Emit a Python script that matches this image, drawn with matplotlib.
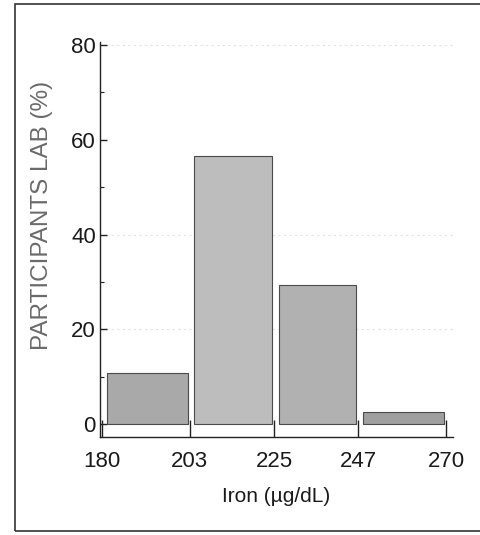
import matplotlib.pyplot as plt
from matplotlib.patches import Rectangle
from matplotlib.ticker import MultipleLocator

# histogram bins (Iron, ug/dL) and share of participating labs (%)
bin_edges = [180, 203, 225, 247, 270]
percent = [10.8, 56.5, 29.3, 2.5]
bar_colors = ["#a9a9a9", "#bdbdbd", "#b1b1b1", "#9f9f9f"]

tick_font = ["Liberation Sans", "DejaVu Sans"]

fig = plt.figure(figsize=(4.81, 5.35), dpi=100)
ax = fig.add_axes([100 / 481, 98 / 535, 353 / 481, 395 / 535])

# faint dotted guide lines seen in the scan
for g in [20, 40, 80]:
    ax.axhline(g, color="#e2e2e2", lw=0.8, ls=(0, (2, 3)), zorder=0)

for i, v in enumerate(percent):
    left = bin_edges[i] + 1.2
    width = bin_edges[i + 1] - bin_edges[i] - 1.8
    ax.bar(left, v, width=width, align="edge", color=bar_colors[i],
           edgecolor="#4a4a4a", lw=0.8, zorder=2)

ax.set_xlim(179.5, 271.8)
ax.set_ylim(-2.7, 80.6)
ax.set_xticks(bin_edges)
ax.set_yticks([0, 20, 40, 60, 80])
ax.yaxis.set_minor_locator(MultipleLocator(10))

for s in ["top", "right"]:
    ax.spines[s].set_visible(False)
for s in ["left", "bottom"]:
    ax.spines[s].set_linewidth(1.0)
    ax.spines[s].set_color("#222222")

ax.tick_params(axis="x", direction="in", length=12, width=1.0, pad=10,
               colors="#222222")
ax.tick_params(axis="y", which="major", direction="in", length=5, width=1.0,
               pad=3, colors="#222222")
ax.tick_params(axis="y", which="minor", direction="in", length=3, width=0.8,
               colors="#222222")
for lab in ax.get_xticklabels() + ax.get_yticklabels():
    lab.set_family(tick_font)
    lab.set_fontsize(16)
    lab.set_color("#1a1a1a")

ax.set_xlabel("Iron (\u00b5g/dL)", family=tick_font, fontsize=15,
              color="#1a1a1a", labelpad=11)
fig.text(42 / 481, 1 - 215 / 535, "PARTICIPANTS LAB (%)", rotation=90,
         ha="center", va="center", family=["Liberation Sans", "DejaVu Sans"],
         fontsize=17.5, color="#6a6a6a")

# outer frame of the scanned figure
fig.patches.append(Rectangle((15 / 481, 4 / 535), 470 / 481, 527 / 535,
                             transform=fig.transFigure, fill=False,
                             edgecolor="#333333", lw=1.2))

fig.savefig("out.png", dpi=100, facecolor="white")
